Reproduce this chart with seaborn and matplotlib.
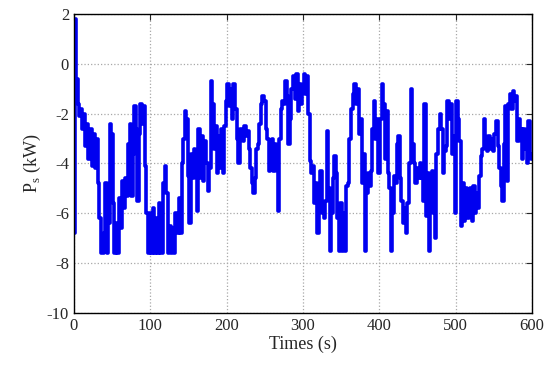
import numpy as np
import pandas as pd
import matplotlib
matplotlib.use("Agg")
import matplotlib.pyplot as plt
import seaborn as sns

# sample grid (s)
times = np.arange(0, 601, 2)

# solar power P_s (kW), one row per 20 s
ps_kw = [
	-6.8, 1.8, -0.6, -1.6, -2.1, -1.8, -2.6, -2.0, -3.3, -2.4,
	-3.8, -2.6, -4.1, -2.8, -4.2, -3.0, -4.8, -6.2, -7.6, -7.6,
	-6.8, -4.8, -7.6, -6.4, -2.4, -2.8, -5.6, -7.6, -6.4, -7.6,
	-5.4, -6.6, -4.7, -5.8, -4.6, -5.3, -3.2, -2.4, -5.3, -3.6,
	-1.7, -2.6, -5.5, -2.8, -1.6, -2.4, -1.7, -4.1, -6.0, -7.6,
	-6.0, -7.6, -5.8, -7.6, -6.2, -7.6, -5.6, -7.6, -7.6, -4.8,
	-4.1, -5.2, -7.6, -6.5, -7.6, -6.6, -7.6, -6.0, -6.8, -5.4,
	-6.8, -4.0, -3.0, -1.9, -2.2, -4.5, -6.4, -3.6, -4.6, -3.4,
	-4.4, -5.9, -2.6, -4.6, -2.9, -4.7, -3.1, -4.0, -5.1, -4.2,
	-0.7, -1.6, -3.4, -2.5, -4.4, -2.9, -4.2, -2.6, -4.4, -2.5,
	-1.5, -0.8, -1.7, -1.0, -2.2, -0.8, -1.8, -3.0, -4.0, -2.6,
	-2.6, -3.1, -2.5, -2.9, -2.7, -3.4, -4.2, -4.8, -5.2, -4.6,
	-3.4, -3.2, -2.4, -1.6, -1.3, -1.5, -2.6, -3.0, -4.3, -3.2,
	-3.0, -4.3, -3.2, -4.0, -5.9, -3.0, -1.8, -1.5, -1.6, -0.7,
	-1.3, -3.2, -2.2, -1.0, -0.5, -1.4, -0.4, -1.9, -0.8, -1.6,
	-0.9, -0.4, -1.2, -0.5, -2.0, -3.9, -4.4, -4.1, -5.6, -4.8,
	-6.8, -5.4, -4.3, -6.0, -6.2, -5.5, -2.7, -5.0, -7.5, -6.0,
	-4.6, -3.7, -4.4, -6.2, -7.5, -5.6, -7.5, -6.0, -7.5, -4.9,
	-4.8, -3.0, -1.8, -1.2, -0.8, -1.6, -1.0, -2.8, -2.2, -4.8,
	-3.6, -7.5, -5.2, -4.4, -4.9, -4.3, -2.6, -1.5, -3.0, -2.2,
	-4.4, -2.2, -0.8, -1.6, -3.8, -1.9, -4.4, -5.0, -7.5, -6.0,
	-4.5, -4.8, -3.2, -2.9, -4.6, -5.5, -6.4, -5.8, -6.8, -5.6,
	-4.0, -1.0, -3.2, -4.0, -4.8, -4.2, -4.6, -4.0, -4.6, -5.5,
	-1.6, -6.1, -4.4, -7.5, -5.6, -4.3, -6.0, -7.0, -3.6, -2.6,
	-2.0, -2.6, -4.4, -3.5, -3.3, -1.5, -2.2, -1.6, -3.6, -2.9,
	-6.0, -1.5, -2.2, -3.1, -6.5, -4.8, -6.3, -5.0, -6.2, -5.4,
	-5.0, -6.3, -4.9, -6.0, -5.2, -5.8, -4.5, -3.7, -3.4, -2.2,
	-3.1, -3.5, -2.9, -3.4, -3.0, -3.5, -2.8, -2.3, -3.3, -4.2,
	-4.9, -5.5, -3.2, -1.7, -4.7, -1.6, -1.2, -1.8, -1.1, -1.5,
	-1.3, -3.1, -2.2, -2.6, -3.8, -2.6, -3.4, -4.0, -2.3, -3.6,
	-3.8,
]

x_ticks = [0, 100, 200, 300, 400, 500, 600]
y_ticks = [-10, -8, -6, -4, -2, 0, 2]

df = pd.DataFrame({"time": times, "ps": ps_kw})

sns.set_style("white")
plt.rcParams['font.family'] = ['Liberation Serif', 'DejaVu Serif']
plt.rcParams['mathtext.fontset'] = 'custom'
plt.rcParams['mathtext.rm'] = 'Liberation Serif'
plt.rcParams['axes.unicode_minus'] = False

fig = plt.figure(figsize=(5.5, 3.68), dpi=100)
ax = fig.add_axes([0.1345, 0.1495, 0.8325, 0.8125])

sns.lineplot(data=df, x="time", y="ps", ax=ax, color="#0000f0", linewidth=2.6,
			 drawstyle="steps-mid", estimator=None)

ax.set_xlim(0, 600)
ax.set_ylim(-10, 2)
ax.set_xticks(x_ticks)
ax.set_yticks(y_ticks)
ax.grid(True, color="#a8a8a8", linestyle=":", linewidth=0.9)
ax.tick_params(direction="in", top=True, right=True, length=4, labelsize=12, width=0.8)
for s in ax.spines.values():
	s.set_color("black")
	s.set_linewidth(1.0)

ax.set_xlabel("Times (s)", fontsize=13, labelpad=1)
ax.set_ylabel(r"P$_{\rm s}$ (kW)", fontsize=13, labelpad=3)

plt.savefig("out.png", dpi=100)
plt.close()
